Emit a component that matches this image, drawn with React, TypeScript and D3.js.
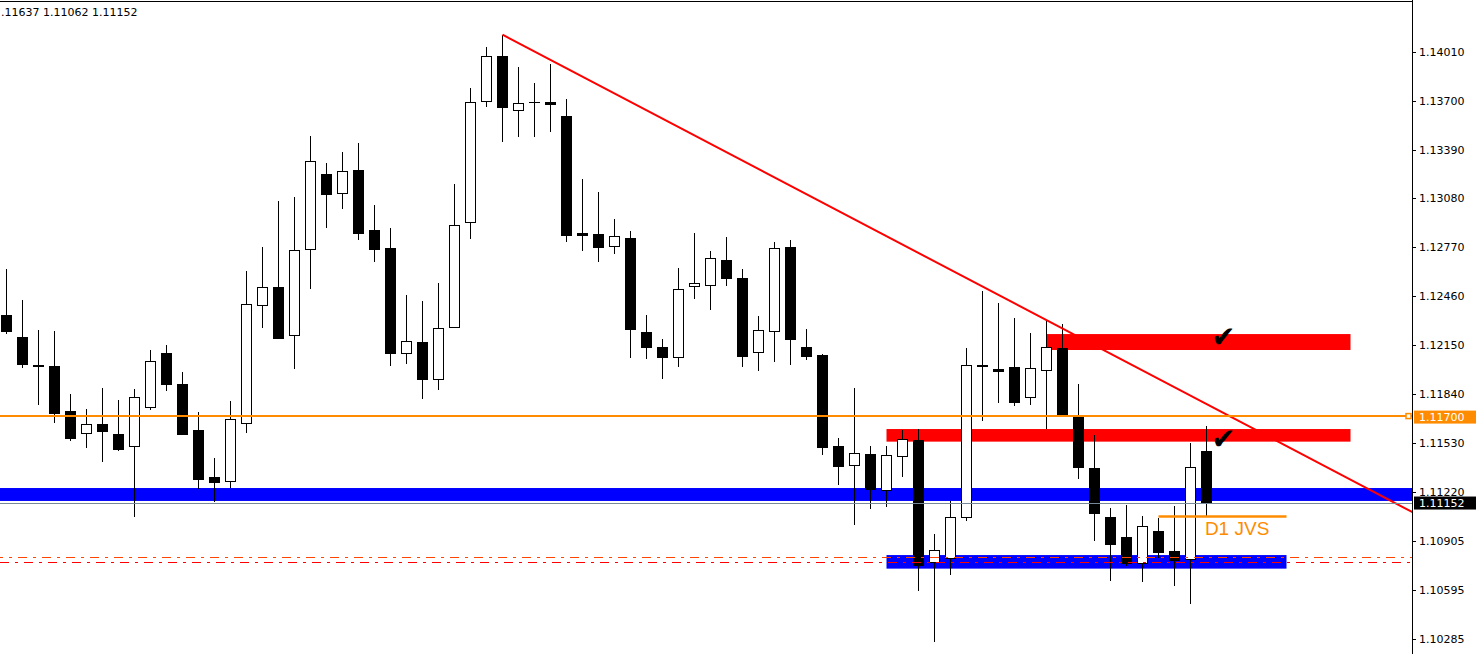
import React from 'react';
import * as d3 from 'd3';

// ---- data (EURUSD candles) ----
const opens = [
  1.12341, 1.12201, 1.12024, 1.12017, 1.11732, 1.11591, 1.11650, 1.11586, 1.11508, 1.11756,
  1.12100, 1.11903, 1.11612, 1.11314, 1.11286, 1.11654, 1.12402, 1.12516, 1.12212, 1.12757,
  1.13233, 1.13112, 1.13258, 1.12878, 1.12764, 1.12098, 1.12168, 1.11933, 1.12263, 1.12928,
  1.13696, 1.13983, 1.13639, 1.13689, 1.13693, 1.13601, 1.12861, 1.12852, 1.12776, 1.12827,
  1.12231, 1.12136, 1.12073, 1.12523, 1.12529, 1.12689, 1.12575, 1.12104, 1.12237, 1.12772,
  1.12138, 1.12090, 1.11508, 1.11388, 1.11458, 1.11229, 1.11445, 1.11548, 1.10773, 1.10798,
  1.11058, 1.12027, 1.11998, 1.12011, 1.11819, 1.11990, 1.12132, 1.11696, 1.11371, 1.11060,
  1.10933, 1.10770, 1.10973, 1.10845, 1.10792, 1.11479,
];
const highs = [
  1.12632, 1.12436, 1.12246, 1.12239, 1.11840, 1.11745, 1.11878, 1.11802, 1.11872, 1.12119,
  1.12151, 1.11979, 1.11724, 1.11434, 1.11796, 1.12620, 1.12772, 1.13064, 1.13089, 1.13476,
  1.13304, 1.13374, 1.13431, 1.13038, 1.12892, 1.12468, 1.12430, 1.12544, 1.13171, 1.13780,
  1.14040, 1.14118, 1.13913, 1.13812, 1.13932, 1.13708, 1.13201, 1.13119, 1.12947, 1.12871,
  1.12339, 1.12187, 1.12637, 1.12861, 1.12747, 1.12835, 1.12632, 1.12334, 1.12802, 1.12814,
  1.12252, 1.12093, 1.11561, 1.11878, 1.11510, 1.11510, 1.11612, 1.11618, 1.10952, 1.11162,
  1.12132, 1.12493, 1.12417, 1.12322, 1.12227, 1.12305, 1.12284, 1.11903, 1.11580, 1.11117,
  1.11136, 1.11066, 1.11056, 1.11130, 1.11529, 1.11637,
];
const lows = [
  1.12222, 1.12007, 1.11772, 1.11658, 1.11544, 1.11499, 1.11411, 1.11480, 1.11062, 1.11738,
  1.11861, 1.11586, 1.11239, 1.11157, 1.11246, 1.11595, 1.12260, 1.12189, 1.11996, 1.12507,
  1.12894, 1.13011, 1.12818, 1.12679, 1.12019, 1.12032, 1.11810, 1.11867, 1.12262, 1.12824,
  1.13661, 1.13439, 1.13471, 1.13471, 1.13503, 1.12805, 1.12748, 1.12679, 1.12729, 1.12070,
  1.12064, 1.11933, 1.12013, 1.12444, 1.12374, 1.12527, 1.12013, 1.11988, 1.12045, 1.12026,
  1.12057, 1.11455, 1.11263, 1.11011, 1.11113, 1.11125, 1.11316, 1.10593, 1.10266, 1.10694,
  1.11037, 1.11669, 1.11785, 1.11766, 1.11772, 1.11616, 1.11704, 1.11303, 1.10910, 1.10656,
  1.10751, 1.10650, 1.10802, 1.10625, 1.10510, 1.11062,
];
const closes = [
  1.12241, 1.12032, 1.12017, 1.11721, 1.11563, 1.11650, 1.11607, 1.11493, 1.11821, 1.12049,
  1.11905, 1.11588, 1.11303, 1.11284, 1.11679, 1.12409, 1.12516, 1.12197, 1.12751, 1.13315,
  1.13110, 1.13252, 1.12863, 1.12761, 1.12102, 1.12174, 1.11937, 1.12256, 1.12909, 1.13689,
  1.13981, 1.13661, 1.13683, 1.13689, 1.13680, 1.12846, 1.12851, 1.12774, 1.12840, 1.12250,
  1.12136, 1.12073, 1.12504, 1.12542, 1.12700, 1.12573, 1.12083, 1.12244, 1.12764, 1.12190,
  1.12083, 1.11506, 1.11385, 1.11464, 1.11239, 1.11451, 1.11553, 1.10758, 1.10849, 1.11060,
  1.12022, 1.12017, 1.11989, 1.11791, 1.12003, 1.12136, 1.11707, 1.11379, 1.11087, 1.10891,
  1.10770, 1.11003, 1.10838, 1.10789, 1.11375, 1.11152,
];

const priceTicks = [
  1.14010, 1.13700, 1.13390, 1.13080, 1.12770, 1.12460, 1.12150,
  1.11840, 1.11530, 1.11220, 1.10905, 1.10595, 1.10285,
];

const headerText = '.11637 1.11062 1.11152';
const bidPrice = 1.11152;
const orangeLevel = 1.117;
const fullBlueBand = [1.11244, 1.11162];
// rectangles: [fromBar, toBar, topPrice, bottomPrice]
const redZones = [
  [65, 84, 1.12220, 1.12119],
  [55, 84, 1.11618, 1.11538],
];
const blueZones = [[55, 80, 1.10819, 1.10733]];
const dashDotLevels = [1.10805, 1.10775];
const trendPoints = [[31, 1.14118], [88, 1.11084]];
const jvsLine = [72, 80, 1.11064];
const jvsLabel = { bar: 74.9, price: 1.10949, text: 'D1 JVS' };
const checkMarks = [
  { bar: 75.3, price: 1.12140 },
  { bar: 75.3, price: 1.11494 },
];

const W = 1476;
const H = 654;
const plotRight = 1412;
const FONT = '"DejaVu Sans", Verdana, sans-serif';

export default function App() {
  const n = opens.length;
  const x = d3.scaleLinear().domain([0, 1]).range([6.5, 22.5]);
  const y = d3.scaleLinear().domain([1.10285, 1.14010]).range([639.3, 51.7]);
  const snap = (v: number) => Math.round(v) + 0.5;

  const trendLine = d3.line<number[]>()
    .x((d) => x(d[0]))
    .y((d) => y(d[1]));

  const candles = d3.range(n).map((i) => {
    const o = opens[i], c = closes[i];
    const bull = c > o;
    const cx = x(i);
    const yTop = snap(y(Math.max(o, c)));
    const yBot = snap(y(Math.min(o, c)));
    return (
      <g key={i}>
        <line x1={cx} x2={cx} y1={Math.round(y(highs[i]))} y2={Math.round(y(lows[i]))}
          stroke="#000" strokeWidth={1} />
        {yBot - yTop < 1 ? (
          <line x1={cx - 5.5} x2={cx + 5.5} y1={yTop} y2={yTop} stroke="#000" strokeWidth={1} />
        ) : (
          <rect x={cx - 5} y={yTop} width={10} height={yBot - yTop}
            fill={bull ? '#fff' : '#000'} stroke="#000" strokeWidth={1} />
        )}
      </g>
    );
  });

  const yBid = y(bidPrice);
  const yOr = y(orangeLevel);

  return (
    <svg width={W} height={H} style={{ position: 'absolute', left: 0, top: 0, background: '#fff' }}
      fontFamily={FONT}>
      <defs>
        <clipPath id="plot">
          <rect x={0} y={0} width={plotRight} height={H} />
        </clipPath>
      </defs>
      <rect x={0} y={0} width={W} height={H} fill="#fff" />

      <g clipPath="url(#plot)">
        {/* background zones */}
        <rect x={0} y={y(fullBlueBand[0])} width={plotRight}
          height={y(fullBlueBand[1]) - y(fullBlueBand[0])} fill="#0000ff" />
        {redZones.map((z, k) => (
          <rect key={'r' + k} x={x(z[0])} y={y(z[2])} width={x(z[1]) - x(z[0])}
            height={y(z[3]) - y(z[2])} fill="#ff0000" />
        ))}
        {blueZones.map((z, k) => (
          <rect key={'b' + k} x={x(z[0])} y={y(z[2])} width={x(z[1]) - x(z[0])}
            height={y(z[3]) - y(z[2])} fill="#0000ff" />
        ))}

        {candles}

        {/* lines */}
        <path d={trendLine(trendPoints) || ''} stroke="#ff0000" strokeWidth={2} fill="none" />
        <line x1={0} x2={plotRight} y1={yOr} y2={yOr} stroke="#ff8c00" strokeWidth={2} />
        <line x1={0} x2={plotRight} y1={snap(yBid)} y2={snap(yBid)} stroke="#778899" strokeWidth={1} />
        {dashDotLevels.map((p, k) => (
          <line key={'dd' + k} x1={0} x2={plotRight} y1={snap(y(p))} y2={snap(y(p))}
            stroke={k === 0 ? '#ff4500' : '#ff0000'} strokeWidth={1}
            strokeDasharray="9,6,3,6" strokeDashoffset={k === 0 ? 6 : 0} />
        ))}
        <line x1={x(jvsLine[0])} x2={x(jvsLine[1])} y1={y(jvsLine[2])} y2={y(jvsLine[2])}
          stroke="#ff8c00" strokeWidth={2.5} />
        <text x={x(jvsLabel.bar)} y={y(jvsLabel.price)} fill="#ff8c00" fontSize={19}
          fontFamily='"Liberation Sans", Arial, sans-serif'>{jvsLabel.text}</text>
        {checkMarks.map((c, k) => (
          <text key={'c' + k} x={x(c.bar)} y={y(c.price)} fontSize={29} fill="#000"
            fontFamily='"DejaVu Sans", sans-serif'>✔</text>
        ))}
        <rect x={plotRight - 6} y={yOr - 2.5} width={5} height={5} fill="#fff" stroke="#ff8c00" strokeWidth={1.5} />
      </g>

      {/* frame & axis */}
      <line x1={0} x2={plotRight} y1={1.5} y2={1.5} stroke="#000" strokeWidth={1} />
      <line x1={plotRight + 0.5} x2={plotRight + 0.5} y1={0} y2={H} stroke="#000" strokeWidth={1} />
      {priceTicks.map((p) => (
        <g key={p}>
          <line x1={plotRight} x2={plotRight + 4} y1={snap(y(p))} y2={snap(y(p))} stroke="#000" />
          <text x={plotRight + 7} y={y(p) + 4} fontSize={11} fill="#000">{p.toFixed(5)}</text>
        </g>
      ))}

      {/* price labels */}
      <rect x={plotRight + 2} y={yOr - 5.5} width={W - plotRight - 2} height={13} fill="#ff8c00" />
      <text x={plotRight + 7} y={yOr + 5} fontSize={11} fill="#fff">{orangeLevel.toFixed(5)}</text>
      <rect x={plotRight + 2} y={yBid - 6} width={W - plotRight - 2} height={13} fill="#000" />
      <text x={plotRight + 7} y={yBid + 4.5} fontSize={11} fill="#fff">{bidPrice.toFixed(5)}</text>

      <text x={1} y={16} fontSize={11} fill="#000">{headerText}</text>
    </svg>
  );
}
